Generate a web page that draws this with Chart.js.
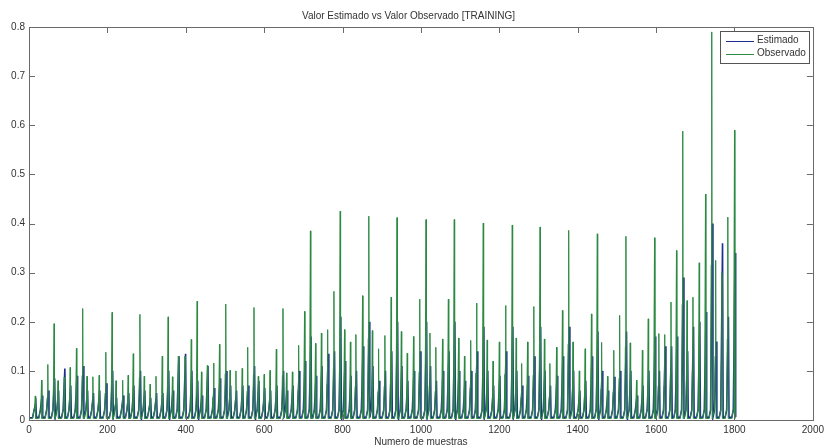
<!DOCTYPE html>
<html>
<head>
<meta charset="utf-8">
<script src="https://cdn.jsdelivr.net/npm/chart.js@4/dist/chart.umd.min.js"></script>
<style>
  html, body { margin: 0; padding: 0; background: #ffffff; }
  #wrap { width: 828px; height: 448px; }
</style>
</head>
<body>
<div id="wrap"><canvas id="c" width="828" height="448"></canvas></div>
<script>
// Sample index of each peak in the training series
const sampleIdx = [
  16, 32, 48, 64, 74, 90, 105, 121, 137, 148, 163, 179, 196, 212, 222, 239, 253,
  266, 283, 294, 309, 324, 340, 355, 366, 381, 398, 414, 429, 440, 455, 471, 486, 502,
  513, 528, 544, 558, 574, 585, 600, 615, 631, 648, 657, 672, 688, 703, 718, 731, 746,
  762, 778, 794, 805, 820, 834, 851, 867, 876, 892, 908, 924, 939, 950, 965, 981, 997,
  1013, 1023, 1038, 1055, 1070, 1085, 1096, 1111, 1127, 1142, 1159, 1169, 1184, 1200, 1216, 1233, 1243,
  1257, 1272, 1288, 1304, 1315, 1329, 1346, 1361, 1377, 1388, 1404, 1419, 1435, 1450, 1461, 1476, 1492,
  1507, 1523, 1534, 1550, 1565, 1580, 1596, 1607, 1622, 1638, 1652, 1668, 1679, 1694, 1710, 1726, 1742,
  1752, 1768, 1783, 1800
];

// Observed value at each peak
const observado = [
  0.049, 0.081, 0.113, 0.196, 0.080, 0.087, 0.107, 0.146, 0.227, 0.089, 0.088, 0.091, 0.138, 0.219, 0.080, 0.081, 0.091,
  0.135, 0.215, 0.089, 0.073, 0.089, 0.130, 0.210, 0.088, 0.130, 0.130, 0.164, 0.242, 0.098, 0.111, 0.116, 0.154, 0.236,
  0.101, 0.100, 0.105, 0.148, 0.229, 0.089, 0.093, 0.101, 0.144, 0.227, 0.096, 0.098, 0.152, 0.221, 0.385, 0.156, 0.177,
  0.184, 0.262, 0.425, 0.184, 0.159, 0.174, 0.253, 0.415, 0.182, 0.145, 0.172, 0.250, 0.412, 0.180, 0.136, 0.170, 0.246,
  0.408, 0.177, 0.148, 0.165, 0.246, 0.408, 0.167, 0.130, 0.162, 0.238, 0.401, 0.163, 0.120, 0.159, 0.233, 0.397, 0.167,
  0.115, 0.159, 0.231, 0.393, 0.165, 0.115, 0.148, 0.223, 0.386, 0.159, 0.100, 0.145, 0.216, 0.379, 0.158, 0.089, 0.142,
  0.213, 0.374, 0.157, 0.081, 0.142, 0.206, 0.371, 0.176, 0.174, 0.240, 0.345, 0.588, 0.243, 0.250, 0.320, 0.460, 0.790,
  0.325, 0.300, 0.413, 0.590
];

// Estimated value at each peak
const estimado = [
  0.035, 0.050, 0.060, 0.085, 0.060, 0.105, 0.070, 0.090, 0.110, 0.060, 0.055, 0.060, 0.075, 0.100, 0.045, 0.050, 0.055,
  0.070, 0.100, 0.060, 0.045, 0.055, 0.055, 0.100, 0.060, 0.130, 0.135, 0.100, 0.080, 0.050, 0.110, 0.065, 0.085, 0.100,
  0.070, 0.060, 0.070, 0.070, 0.110, 0.080, 0.065, 0.060, 0.070, 0.100, 0.060, 0.070, 0.100, 0.120, 0.170, 0.090, 0.110,
  0.135, 0.140, 0.210, 0.120, 0.090, 0.100, 0.150, 0.200, 0.110, 0.080, 0.100, 0.140, 0.200, 0.110, 0.080, 0.100, 0.140,
  0.200, 0.110, 0.080, 0.100, 0.140, 0.200, 0.100, 0.080, 0.100, 0.140, 0.190, 0.100, 0.070, 0.090, 0.140, 0.190, 0.100,
  0.070, 0.090, 0.130, 0.190, 0.100, 0.070, 0.090, 0.130, 0.190, 0.100, 0.060, 0.080, 0.130, 0.180, 0.100, 0.060, 0.088,
  0.100, 0.180, 0.100, 0.050, 0.070, 0.100, 0.170, 0.100, 0.150, 0.150, 0.170, 0.290, 0.140, 0.190, 0.200, 0.220, 0.400,
  0.160, 0.360, 0.210, 0.340
];

// Axis ticks
const xTickValues = [0, 200, 400, 600, 800, 1000, 1200, 1400, 1600, 1800, 2000];
const yTickValues = [0, 0.1, 0.2, 0.3, 0.4, 0.5, 0.6, 0.7, 0.8];

const seriesNames = ['Estimado', 'Observado'];
const seriesColors = ['#1d2f8e', '#2c8a42'];
const chartTitle = 'Valor Estimado vs Valor Observado [TRAINING]';
const xTitle = 'Numero de muestras';

const FONT = '"Liberation Sans", Arial, sans-serif';
const TEXT = '#333333';
const AXIS = '#6a6a6a';

// Each peak: low baseline, slow rise, steep climb to the peak, then a drop back down
function observedTrace() {
  const pts = [{ x: 0, y: 0.003 }];
  for (let i = 0; i < sampleIdx.length; i++) {
    const p = sampleIdx[i], v = observado[i];
    pts.push({ x: p - 7, y: 0.003 });
    pts.push({ x: p - 3, y: 0.022 });
    pts.push({ x: p - 1.5, y: Math.max(0.4 * v, 0.026) });
    pts.push({ x: p, y: v });
    pts.push({ x: p + 1, y: 0.003 });
  }
  return pts;
}
// The estimate reaches its peak slightly after the observation
function estimatedTrace() {
  const pts = [{ x: 0, y: 0.004 }];
  for (let i = 0; i < sampleIdx.length; i++) {
    const p = sampleIdx[i], v = estimado[i];
    pts.push({ x: p - 7, y: 0.005 });
    pts.push({ x: p - 3, y: 0.02 });
    pts.push({ x: p + 1.5, y: v });
    pts.push({ x: p + 3, y: 0.006 });
  }
  return pts;
}

// Frame with inward tick marks on all four sides, plus the boxed legend
const framePlugin = {
  id: 'frame',
  afterDatasetsDraw(chart) {
    const { ctx, chartArea: a, scales } = chart;
    ctx.save();
    ctx.strokeStyle = AXIS;
    ctx.lineWidth = 1;
    ctx.strokeRect(Math.round(a.left) + 0.5, Math.round(a.top) + 0.5,
                   Math.round(a.right - a.left), Math.round(a.bottom - a.top));
    const tl = 6;
    ctx.beginPath();
    xTickValues.forEach(v => {
      const px = Math.round(scales.x.getPixelForValue(v)) + 0.5;
      ctx.moveTo(px, a.bottom); ctx.lineTo(px, a.bottom - tl);
      ctx.moveTo(px, a.top); ctx.lineTo(px, a.top + tl);
    });
    yTickValues.forEach(v => {
      const py = Math.round(scales.y.getPixelForValue(v)) + 0.5;
      ctx.moveTo(a.left, py); ctx.lineTo(a.left + tl, py);
      ctx.moveTo(a.right, py); ctx.lineTo(a.right - tl, py);
    });
    ctx.stroke();

    // legend box in the top-right corner of the plot
    const bw = 89, bh = 32;
    const bx = Math.round(a.right) - 93, by = Math.round(a.top) + 4;
    ctx.fillStyle = '#ffffff';
    ctx.fillRect(bx, by, bw, bh);
    ctx.strokeStyle = '#555555';
    ctx.strokeRect(bx + 0.5, by + 0.5, bw, bh);
    ctx.font = '10px ' + FONT;
    ctx.textBaseline = 'middle';
    ctx.textAlign = 'left';
    seriesNames.forEach((name, i) => {
      const ly = by + 9.5 + i * 13;
      ctx.strokeStyle = seriesColors[i];
      ctx.lineWidth = 1;
      ctx.beginPath();
      ctx.moveTo(bx + 6, Math.round(ly) + 0.5);
      ctx.lineTo(bx + 34, Math.round(ly) + 0.5);
      ctx.stroke();
      ctx.fillStyle = TEXT;
      ctx.fillText(name, bx + 37, ly);
    });
    ctx.restore();
  }
};

new Chart(document.getElementById('c'), {
  type: 'line',
  data: {
    datasets: [
      {
        label: seriesNames[0],
        data: estimatedTrace(),
        borderColor: seriesColors[0],
        borderWidth: 1.6,
        pointRadius: 0,
        tension: 0,
        order: 2
      },
      {
        label: seriesNames[1],
        data: observedTrace(),
        borderColor: seriesColors[1],
        borderWidth: 1,
        pointRadius: 0,
        tension: 0,
        order: 1
      }
    ]
  },
  options: {
    responsive: false,
    animation: false,
    devicePixelRatio: 1,
    layout: { padding: { left: 0, right: 11, top: 0, bottom: 0 } },
    plugins: {
      legend: { display: false },
      tooltip: { enabled: false },
      title: {
        display: true,
        text: chartTitle,
        color: TEXT,
        font: { family: FONT, size: 10, weight: 'normal' },
        padding: { top: 10, bottom: 5 }
      }
    },
    scales: {
      x: {
        type: 'linear',
        min: 0, max: 2000,
        grid: { display: false, drawTicks: false },
        border: { display: false },
        afterBuildTicks: s => { s.ticks = xTickValues.map(v => ({ value: v })); },
        afterFit: s => { s.height = 28; },
        ticks: {
          color: TEXT, padding: 4, maxRotation: 0, autoSkip: false,
          font: { family: FONT, size: 10 },
          callback: v => String(v)
        },
        title: {
          display: true, text: xTitle, color: TEXT,
          font: { family: FONT, size: 10 },
          padding: { top: 0, bottom: 0 }
        }
      },
      y: {
        min: 0, max: 0.8,
        grid: { display: false, drawTicks: false },
        border: { display: false },
        afterBuildTicks: s => { s.ticks = yTickValues.map(v => ({ value: v })); },
        afterFit: s => { s.width = 29; },
        ticks: {
          color: TEXT, padding: 4, autoSkip: false,
          font: { family: FONT, size: 10 },
          callback: v => String(Math.round(v * 10) / 10)
        }
      }
    }
  },
  plugins: [framePlugin]
});
</script>
</body>
</html>
